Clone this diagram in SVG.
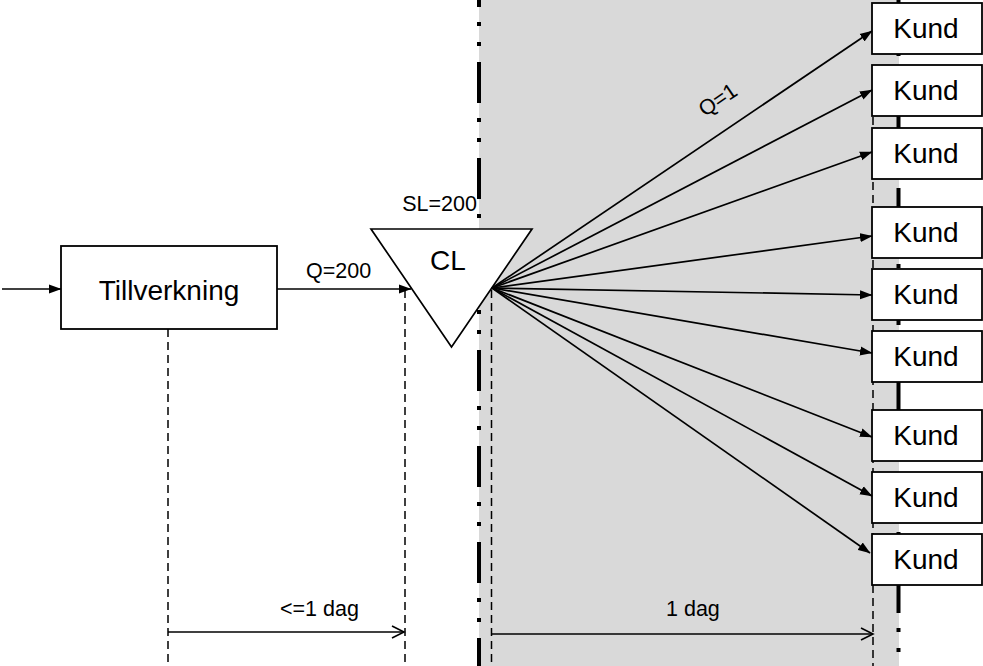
<svg xmlns="http://www.w3.org/2000/svg" width="983" height="666" viewBox="0 0 983 666">
<style>
.big{font-family:"Liberation Sans",Arial,sans-serif;font-size:28px;fill:#000;text-anchor:middle}
.sm{font-family:"Liberation Sans",Arial,sans-serif;font-size:21.5px;fill:#000}
.box{fill:#fff;stroke:#000;stroke-width:1.8}
.ln{stroke:#000;stroke-width:1.7;fill:none}
.dash{stroke:#000;stroke-width:1.5;stroke-dasharray:8 5;fill:none}
.dd{stroke:#000;stroke-width:4;stroke-dasharray:41 15 4 16 4 16;fill:none}
</style>
<defs>
<marker id="ah" markerWidth="13" markerHeight="10" refX="12" refY="5" orient="auto" markerUnits="userSpaceOnUse"><path d="M0,0.5 L12.5,5 L0,9.5 z" fill="#000"/></marker>
<marker id="oh" markerWidth="16" markerHeight="16" refX="13" refY="7" orient="auto" markerUnits="userSpaceOnUse" overflow="visible"><path d="M1,1 L13,7 L1,13" fill="none" stroke="#000" stroke-width="1.6"/></marker>
</defs>
<rect x="479" y="0" width="420" height="666" fill="#d9d9d9"/>
<g id="boundaries">
<line class="dd" x1="479" y1="0" x2="479" y2="666" stroke-dashoffset="34"/>
<line class="dd" x1="898.5" y1="0" x2="898.5" y2="666" stroke-dashoffset="4"/>
<line class="dash" x1="168" y1="329" x2="168" y2="666"/>
<line class="dash" x1="405" y1="290" x2="405" y2="666"/>
<line class="dash" x1="491.5" y1="290" x2="491.5" y2="666"/>
<line class="dash" x1="873" y1="117" x2="873" y2="666"/>
</g>
<g id="tillverkning">
<rect class="box" x="61" y="246" width="216" height="83"/>
<text class="big" x="169" y="300">Tillverkning</text>
</g>
<g id="cl">
<polygon points="371,229 532,229 451.5,347" fill="#fff" stroke="#000" stroke-width="1.7"/>
<text class="big" x="448" y="270">CL</text>
</g>
<g id="k1"><rect class="box" x="872" y="3" width="110" height="51"/><text class="big" x="926" y="38">Kund</text></g>
<g id="k2"><rect class="box" x="872" y="65" width="110" height="51"/><text class="big" x="926" y="100">Kund</text></g>
<g id="k3"><rect class="box" x="872" y="128" width="110" height="51"/><text class="big" x="926" y="163">Kund</text></g>
<g id="k4"><rect class="box" x="872" y="207" width="110" height="51"/><text class="big" x="926" y="242">Kund</text></g>
<g id="k5"><rect class="box" x="872" y="269" width="110" height="51"/><text class="big" x="926" y="304">Kund</text></g>
<g id="k6"><rect class="box" x="872" y="331" width="110" height="51"/><text class="big" x="926" y="366">Kund</text></g>
<g id="k7"><rect class="box" x="872" y="410" width="110" height="51"/><text class="big" x="926" y="445">Kund</text></g>
<g id="k8"><rect class="box" x="872" y="472" width="110" height="51"/><text class="big" x="926" y="507">Kund</text></g>
<g id="k9"><rect class="box" x="872" y="534" width="110" height="51"/><text class="big" x="926" y="569">Kund</text></g>
<g id="connectors">
<line class="ln" x1="2" y1="289" x2="61" y2="289" marker-end="url(#ah)"/>
<line class="ln" x1="277" y1="289" x2="411" y2="289" marker-end="url(#ah)"/>
<line class="ln" x1="492" y1="288" x2="872" y2="31" marker-end="url(#ah)"/>
<line class="ln" x1="492" y1="288" x2="872" y2="90" marker-end="url(#ah)"/>
<line class="ln" x1="492" y1="288" x2="872" y2="152" marker-end="url(#ah)"/>
<line class="ln" x1="492" y1="288" x2="872" y2="236" marker-end="url(#ah)"/>
<line class="ln" x1="492" y1="288" x2="872" y2="295" marker-end="url(#ah)"/>
<line class="ln" x1="492" y1="288" x2="872" y2="353" marker-end="url(#ah)"/>
<line class="ln" x1="492" y1="288" x2="872" y2="437" marker-end="url(#ah)"/>
<line class="ln" x1="492" y1="288" x2="872" y2="496" marker-end="url(#ah)"/>
<line class="ln" x1="492" y1="288" x2="870" y2="553" marker-end="url(#ah)"/>
<line class="ln" x1="168" y1="632" x2="404" y2="632" marker-end="url(#oh)"/>
<line class="ln" x1="491.5" y1="634" x2="873" y2="634" marker-end="url(#oh)"/>
</g>
<g id="labels">
<text class="sm" x="306" y="278">Q=200</text>
<text class="sm" x="477" y="211" text-anchor="end">SL=200</text>
<text class="sm" transform="translate(718,100) rotate(-34)" text-anchor="middle" y="7">Q=1</text>
<text class="sm" x="280" y="616">&lt;=1 dag</text>
<text class="sm" x="666" y="616">1 dag</text>
</g>
</svg>
